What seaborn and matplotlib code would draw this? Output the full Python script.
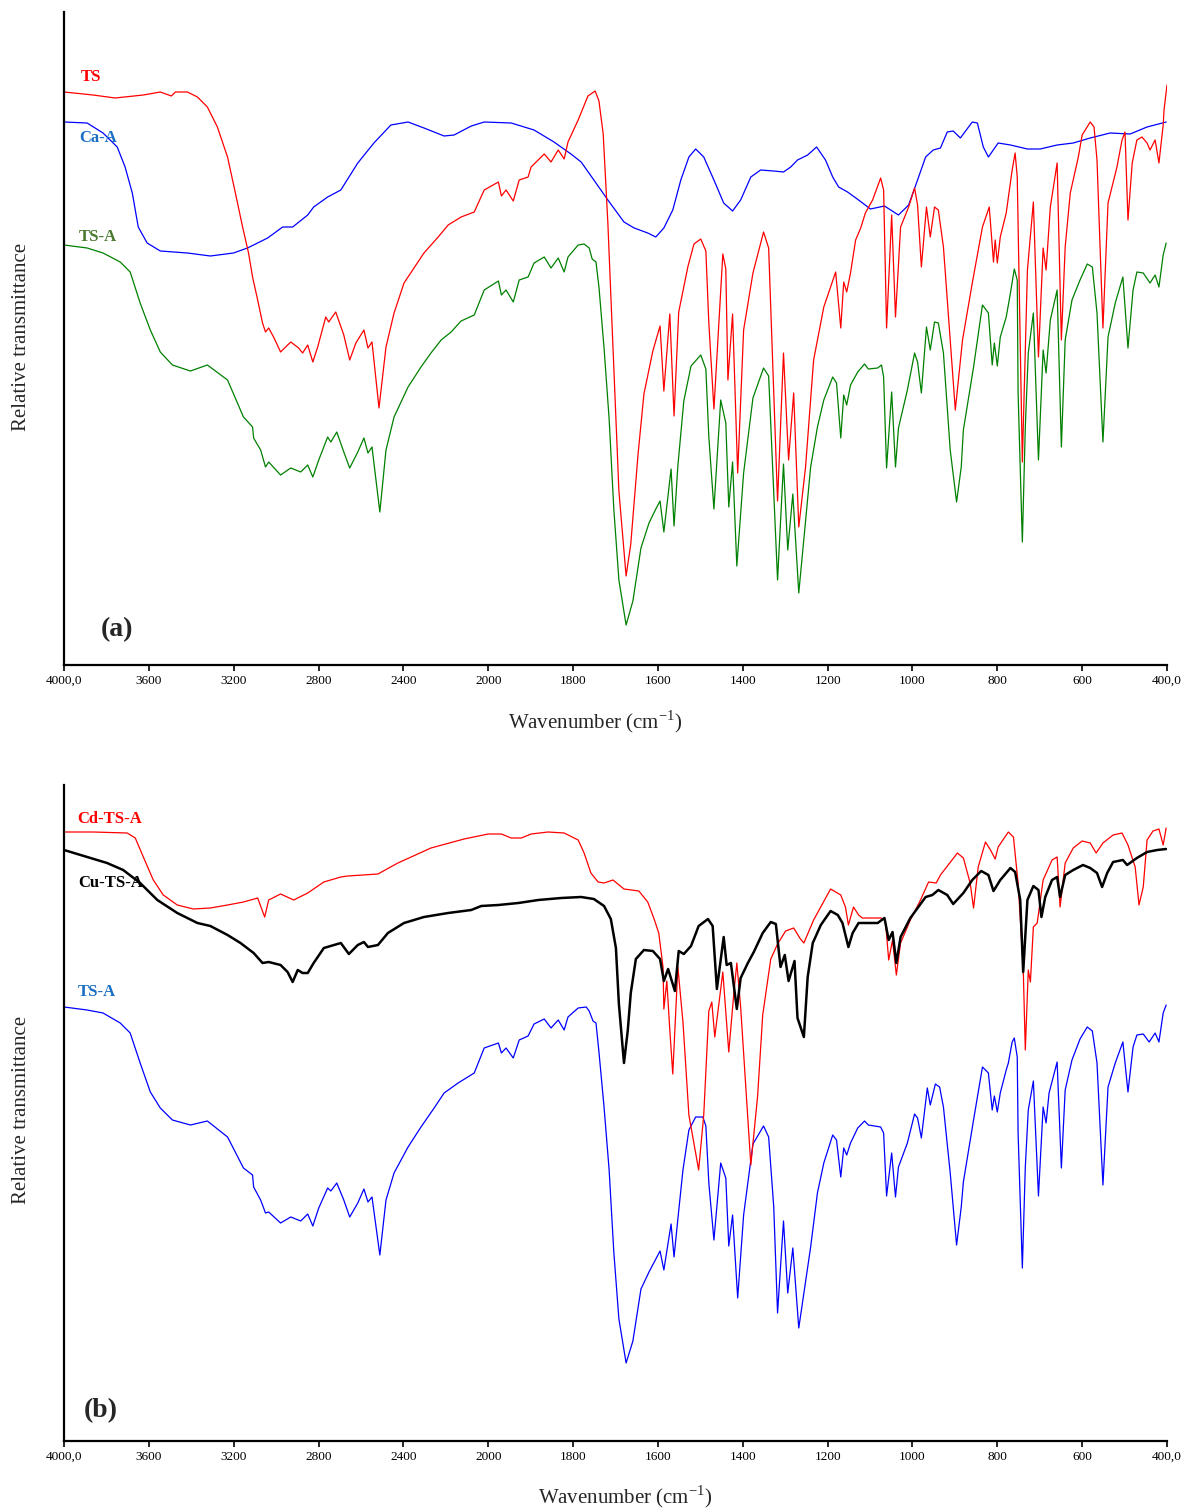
import numpy as np
import pandas as pd
import matplotlib
matplotlib.use("Agg")
import matplotlib.pyplot as plt
import seaborn as sns

# ---------------- data (wavenumber cm-1, relative transmittance, arb. units) ----------------
ts_wn = [4000, 3863, 3759, 3626, 3546, 3494, 3475, 3418, 3371, 3324, 3277, 3229, 3192, 3158, 3130, 3111,
         3087, 3064, 3050, 3035, 3012, 2979, 2931, 2894, 2875, 2851, 2827, 2804, 2766, 2752, 2719, 2681,
         2653, 2624, 2586, 2567, 2548, 2515, 2482, 2444, 2397, 2303, 2236, 2189, 2128, 2066, 2019, 1976,
         1969, 1958, 1941, 1927, 1906, 1899, 1868, 1852, 1835, 1821, 1812, 1788, 1765, 1748, 1739, 1729,
         1718, 1704, 1692, 1675, 1664, 1647, 1633, 1612, 1595, 1586, 1572, 1562, 1551, 1529, 1515, 1499,
         1487, 1480, 1468, 1447, 1440, 1435, 1424, 1412, 1398, 1376, 1351, 1339, 1318, 1304, 1292, 1280,
         1268, 1252, 1233, 1209, 1181, 1169, 1162, 1155, 1146, 1134, 1122, 1111, 1094, 1075, 1068, 1061,
         1049, 1040, 1028, 1009, 995, 988, 979, 967, 958, 948, 939, 927, 899, 882, 859, 835, 819, 809, 805,
         800, 793, 779, 765, 758, 753, 741, 729, 715, 703, 692, 685, 675, 659, 649, 640, 628, 609, 600,
         581, 572, 565, 551, 539, 518, 506, 499, 492, 482, 471, 459, 447, 440, 428, 419, 409, 407, 400]
ts_t = [573, 570, 567, 570, 573, 569, 573, 573, 568, 558, 538, 508, 472, 438, 412, 388,
        365, 342, 333, 337, 328, 313, 323, 317, 312, 320, 303, 318, 348, 343, 353, 330,
        305, 322, 335, 317, 323, 257, 318, 352, 382, 412, 428, 440, 448, 453, 475, 483,
        469, 475, 464, 485, 488, 498, 511, 503, 515, 506, 523, 545, 569, 574, 564, 531,
        442, 299, 174, 89, 121, 210, 271, 314, 339, 274, 351, 249, 353, 399, 421, 426,
        414, 342, 256, 411, 396, 285, 351, 192, 335, 392, 433, 417, 164, 312, 205, 272,
        138, 198, 305, 358, 393, 337, 383, 373, 392, 425, 437, 452, 465, 487, 475, 337,
        450, 348, 438, 458, 477, 460, 398, 458, 428, 458, 455, 418, 255, 325, 382, 438, 458, 403, 425,
        402, 428, 452, 495, 512, 488, 203, 395, 463, 308, 417, 395, 458, 502, 325, 418, 472, 508, 530,
        543, 538, 505, 337, 462, 498, 525, 533, 445, 502, 525, 528, 522, 515, 525, 502, 540, 555, 580]

caa_wn = [4000, 3891, 3816, 3749, 3712, 3678, 3650, 3608, 3546, 3418, 3310, 3201, 3135, 3040, 2969, 2922,
          2851, 2823, 2757, 2695, 2615, 2539, 2459, 2378, 2303, 2208, 2161, 2080, 2019, 1946, 1892, 1845,
          1805, 1781, 1751, 1718, 1680, 1656, 1624, 1605, 1586, 1565, 1546, 1527, 1511, 1492, 1468, 1445,
          1424, 1405, 1381, 1358, 1327, 1304, 1287, 1271, 1247, 1226, 1205, 1188, 1174, 1153, 1127, 1099,
          1066, 1033, 1009, 988, 969, 951, 934, 918, 904, 887, 859, 847, 833, 821, 798, 769, 729, 699,
          659, 621, 581, 534, 487, 447, 402]
caa_t = [543, 542, 532, 518, 498, 472, 438, 422, 414, 412, 409, 412, 417, 427, 438, 438,
         450, 458, 468, 475, 502, 522, 540, 543, 537, 529, 530, 539, 543, 542, 535, 523,
         511, 503, 485, 465, 443, 437, 432, 428, 437, 455, 485, 508, 516, 508, 485, 462,
         454, 465, 488, 495, 494, 493, 498, 505, 510, 518, 505, 488, 478, 473, 465, 456,
         459, 450, 460, 485, 508, 515, 517, 533, 534, 527, 543, 542, 518, 508, 522, 520, 516, 516,
         520, 522, 527, 532, 531, 538, 543]

tsa_wn = [4000, 3891, 3816, 3735, 3688, 3641, 3593, 3546, 3489, 3404, 3324, 3229, 3154, 3111, 3106, 3073,
          3050, 3035, 2979, 2931, 2884, 2851, 2827, 2799, 2757, 2742, 2714, 2681, 2653, 2615, 2586, 2567,
          2548, 2511, 2482, 2444, 2378, 2317, 2270, 2222, 2175, 2128, 2066, 2019, 1976, 1969, 1958, 1941,
          1927, 1906, 1892, 1868, 1852, 1835, 1821, 1812, 1788, 1774, 1762, 1755, 1746, 1739, 1727, 1715,
          1704, 1692, 1675, 1659, 1640, 1621, 1605, 1595, 1586, 1569, 1562, 1553, 1539, 1522, 1499, 1487,
          1480, 1468, 1452, 1440, 1433, 1424, 1414, 1398, 1376, 1351, 1339, 1318, 1304, 1294, 1282, 1268,
          1240, 1224, 1209, 1188, 1179, 1169, 1162, 1155, 1146, 1129, 1113, 1104, 1082, 1073, 1068, 1061,
          1049, 1040, 1033, 1012, 995, 988, 979, 967, 958, 948, 939, 927, 911, 896, 885, 880, 856, 835,
          821, 812, 807, 800, 793, 779, 769, 760, 753, 751, 741, 734, 727, 715, 703, 692, 685, 675, 659,
          649, 640, 624, 605, 588, 576, 565, 551, 539, 522, 504, 492, 480, 471, 456, 440, 428, 419, 409, 402]
tsa_t = [420, 417, 412, 403, 393, 362, 335, 313, 300, 294, 300, 285, 248, 238, 227, 215,
         198, 203, 190, 197, 193, 200, 188, 205, 228, 223, 233, 213, 197, 213, 227, 212,
         218, 153, 215, 248, 278, 298, 312, 325, 333, 344, 350, 375, 384, 370, 375, 363,
         385, 388, 402, 408, 397, 407, 393, 408, 420, 421, 417, 406, 403, 378, 317, 246,
         156, 85, 40, 64, 117, 142, 156, 164, 133, 196, 139, 199, 264, 299, 310, 296,
         228, 156, 265, 242, 158, 203, 99, 192, 267, 297, 289, 85, 201, 115, 171, 72,
         198, 238, 265, 288, 282, 227, 270, 260, 280, 293, 301, 296, 297, 300, 288, 197,
         273, 198, 237, 275, 312, 303, 272, 338, 315, 343, 342, 312, 215, 163, 198, 235, 298, 360,
         352, 300, 322, 299, 328, 348, 372, 396, 385, 272, 123, 238, 312, 352, 205, 315, 292, 345, 375,
         218, 325, 365, 385, 401, 398, 352, 223, 328, 362, 388, 317, 375, 393, 392, 382, 390, 378, 410, 422]

cd_wn = [4000, 3863, 3702, 3664, 3626, 3579, 3532, 3466, 3390, 3310, 3229, 3154, 3087, 3054, 3035, 2979,
         2917, 2851, 2775, 2695, 2662, 2520, 2426, 2270, 2114, 2000, 1969, 1946, 1922, 1899, 1859, 1821,
         1788, 1774, 1758, 1741, 1727, 1706, 1680, 1645, 1624, 1609, 1598, 1588, 1586, 1579, 1572, 1565,
         1553, 1541, 1527, 1504, 1492, 1480, 1473, 1466, 1447, 1433, 1421, 1414, 1405, 1381, 1365, 1353,
         1334, 1318, 1299, 1280, 1264, 1256, 1233, 1193, 1169, 1158, 1151, 1139, 1127, 1118, 1075, 1064,
         1056, 1047, 1038, 1028, 1005, 981, 962, 944, 934, 894, 880, 864, 856, 845, 828, 816, 805, 798,
         774, 762, 751, 739, 734, 727, 722, 715, 706, 692, 671, 659, 652, 640, 621, 600, 581, 567, 551,
         527, 506, 492, 475, 466, 456, 447, 433, 419, 409, 402]
cd_t = [609, 609, 608, 603, 584, 561, 546, 536, 532, 533, 536, 539, 543, 524, 541, 547,
        541, 548, 559, 564, 565, 567, 578, 593, 602, 607, 607, 603, 603, 607, 609, 608,
        601, 588, 568, 559, 558, 561, 552, 550, 539, 522, 508, 474, 432, 460, 411, 367,
        474, 419, 326, 271, 326, 430, 439, 404, 469, 389, 448, 478, 434, 276, 345, 426,
        482, 497, 510, 513, 502, 498, 521, 552, 546, 534, 516, 534, 526, 523, 523, 521,
        481, 501, 466, 498, 521, 541, 559, 558, 566, 588, 583, 558, 533, 574, 599, 591, 582, 594,
        609, 604, 558, 474, 391, 471, 459, 514, 518, 561, 581, 584, 534, 578, 593, 600, 598, 588, 598,
        606, 608, 596, 574, 536, 554, 601, 610, 612, 596, 613]

cu_wn = [4000, 3891, 3797, 3721, 3641, 3560, 3466, 3371, 3310, 3229, 3168, 3106, 3064, 3035, 2979, 2946,
         2922, 2898, 2875, 2851, 2823, 2775, 2695, 2657, 2615, 2586, 2567, 2520, 2473, 2397, 2303, 2189,
         2080, 2033, 1976, 1929, 1882, 1828, 1781, 1751, 1727, 1711, 1699, 1692, 1680, 1671, 1664, 1652,
         1633, 1612, 1595, 1586, 1576, 1560, 1551, 1539, 1522, 1504, 1482, 1471, 1461, 1445, 1438, 1428,
         1414, 1405, 1388, 1374, 1353, 1334, 1322, 1311, 1301, 1292, 1278, 1271, 1256, 1247, 1235, 1216,
         1193, 1176, 1165, 1151, 1141, 1127, 1082, 1066, 1056, 1047, 1038, 1028, 1005, 986, 969, 953,
         939, 918, 904, 880, 859, 838, 821, 809, 793, 769, 758, 746, 739, 729, 715, 703, 696, 687, 671,
         659, 652, 640, 621, 598, 581, 565, 553, 541, 527, 504, 494, 471, 447, 423, 402]
cu_t = [591, 584, 578, 571, 558, 541, 528, 518, 515, 506, 498, 488, 478, 479, 476, 469,
        459, 471, 468, 468, 478, 493, 498, 487, 496, 499, 494, 496, 508, 518, 524, 528,
        531, 535, 536, 538, 541, 543, 544, 542, 535, 522, 493, 437, 378, 411, 448, 482,
        491, 490, 482, 460, 472, 450, 490, 487, 495, 515, 522, 515, 452, 504, 476, 478,
        432, 463, 478, 489, 508, 519, 517, 474, 486, 460, 480, 423, 404, 464, 498, 516,
        530, 526, 518, 494, 508, 518, 518, 523, 501, 509, 478, 504, 523, 534, 544, 546,
        551, 546, 537, 548, 561, 570, 566, 550, 561, 573, 569, 541, 469, 541, 555, 551, 524, 544, 561,
        564, 544, 566, 571, 576, 573, 568, 554, 568, 579, 581, 576, 583, 589, 591, 592]

tsab_wn = [4000, 3891, 3816, 3735, 3688, 3641, 3593, 3546, 3489, 3404, 3324, 3229, 3154, 3111, 3106, 3073,
           3050, 3035, 2979, 2931, 2884, 2851, 2827, 2799, 2757, 2742, 2714, 2681, 2653, 2615, 2586, 2567,
           2548, 2511, 2482, 2444, 2378, 2317, 2255, 2208, 2142, 2066, 2019, 1976, 1969, 1958, 1941, 1927,
           1906, 1892, 1868, 1852, 1835, 1821, 1812, 1788, 1769, 1762, 1753, 1746, 1739, 1727, 1715, 1704,
           1692, 1675, 1659, 1640, 1621, 1605, 1595, 1586, 1569, 1562, 1553, 1541, 1527, 1511, 1494, 1487,
           1480, 1468, 1452, 1440, 1433, 1424, 1412, 1398, 1376, 1351, 1339, 1327, 1318, 1304, 1294, 1282,
           1268, 1240, 1224, 1209, 1188, 1179, 1169, 1162, 1155, 1146, 1129, 1113, 1104, 1075, 1068, 1061,
           1049, 1040, 1033, 1012, 995, 988, 979, 965, 958, 946, 936, 927, 911, 896, 885, 880, 856, 835,
           821, 812, 807, 800, 793, 779, 774, 765, 760, 753, 751, 741, 734, 727, 715, 703, 692, 685, 678,
           659, 649, 640, 624, 605, 588, 576, 565, 551, 539, 522, 504, 492, 480, 471, 456, 442, 428, 419,
           409, 402]
tsab_t = [434, 431, 428, 418, 408, 378, 349, 333, 321, 316, 320, 304, 273, 266, 254, 241,
          228, 229, 218, 224, 220, 227, 215, 233, 253, 250, 258, 241, 224, 238, 252, 239,
          244, 186, 241, 268, 294, 314, 333, 348, 358, 368, 393, 398, 388, 393, 383, 401,
          405, 417, 422, 413, 421, 411, 424, 433, 434, 430, 420, 418, 389, 334, 271, 189,
          122, 78, 100, 152, 169, 182, 190, 171, 217, 184, 222, 271, 311, 324, 324, 315,
          258, 201, 278, 263, 195, 226, 143, 226, 297, 315, 304, 234, 128, 220, 148, 193,
          113, 194, 248, 278, 306, 301, 264, 293, 286, 298, 313, 320, 316, 314, 308, 245,
          288, 244, 274, 298, 327, 323, 303, 353, 336, 357, 354, 334, 268, 196, 234, 259, 321, 374,
          368, 331, 345, 329, 348, 371, 378, 399, 403, 384, 308, 173, 274, 331, 360, 245, 334, 318, 348,
          379, 273, 351, 381, 402, 414, 410, 378, 256, 354, 378, 399, 349, 394, 406, 407, 399, 408, 399,
          428, 436]

# ---------------- style ----------------
sns.set_theme(style="ticks")
plt.rcParams["font.family"] = ["Liberation Serif", "DejaVu Serif"]
plt.rcParams["mathtext.fontset"] = "custom"
plt.rcParams["mathtext.rm"] = "Liberation Serif"

W, H = 1183, 1512
fig = plt.figure(figsize=(W / 100, H / 100), dpi=100)


def fwd(w):
    w = np.asarray(w, dtype=float)
    return np.where(w <= 2000, w / 200.0, 10.0 + (w - 2000.0) / 400.0)


def inv(p):
    p = np.asarray(p, dtype=float)
    return np.where(p <= 10, p * 200.0, 2000.0 + (p - 10.0) * 400.0)


tick_pos = [4000, 3600, 3200, 2800, 2400, 2000, 1800, 1600, 1400, 1200, 1000, 800, 600, 400]
tick_lab = ["4000,0", "3600", "3200", "2800", "2400", "2000", "1800", "1600", "1400",
            "1200", "1000", "800", "600", "400,0"]


def make_axes(top_px, bottom_px, ymax):
    ax = fig.add_axes([64 / W, 1 - bottom_px / H, (1167 - 64) / W, (bottom_px - top_px) / H])
    ax.set_xscale("function", functions=(fwd, inv))
    ax.set_xlim(4000, 400)
    ax.set_ylim(0, ymax)
    ax.set_xticks(tick_pos)
    ax.set_xticklabels(tick_lab, fontsize=9.5)
    ax.minorticks_off()
    ax.set_yticks([])
    for s in ["top", "right"]:
        ax.spines[s].set_visible(False)
    for s in ["left", "bottom"]:
        ax.spines[s].set_linewidth(1.6)
        ax.spines[s].set_color("black")
    ax.tick_params(axis="x", direction="out", length=4, width=1.2, pad=3, colors="black")
    ax.set_xlabel("")
    ax.set_ylabel("")
    return ax


def draw(ax, wn, t, color, lw):
    df = pd.DataFrame({"wn": wn, "t": t})
    sns.lineplot(data=df, x="wn", y="t", ax=ax, color=color, linewidth=lw,
                 sort=False, estimator=None)
    ax.set_xlabel("")
    ax.set_ylabel("")


# panel (a)
ax1 = make_axes(12, 665, 653)
draw(ax1, caa_wn, caa_t, "#0000ff", 0.9)
draw(ax1, tsa_wn, tsa_t, "#008000", 0.9)
draw(ax1, ts_wn, ts_t, "#ff0000", 0.9)

# panel (b)
ax2 = make_axes(785, 1441, 656)
draw(ax2, tsab_wn, tsab_t, "#0000ff", 0.9)
draw(ax2, cd_wn, cd_t, "#ff0000", 0.9)
draw(ax2, cu_wn, cu_t, "#000000", 1.8)


def ftext(x, y, s, **kw):
    fig.text(x / W, 1 - y / H, s, **kw)


# series labels
ftext(81, 77, "TS", color="#ff0000", fontsize=12, fontweight="bold", va="center")
ftext(79, 138, "Ca-A", color="#1a6fc4", fontsize=12, fontweight="bold", va="center")
ftext(79, 237, "TS-A", color="#4a7a2e", fontsize=12, fontweight="bold", va="center")
ftext(77, 819, "Cd-TS-A", color="#ff0000", fontsize=12, fontweight="bold", va="center")
ftext(78, 883, "Cu-TS-A", color="#000000", fontsize=12, fontweight="bold", va="center")
ftext(78, 992, "TS-A", color="#1a6fc4", fontsize=12, fontweight="bold", va="center")

# panel tags
ftext(117, 630, "(a)", fontsize=20, fontweight="bold", ha="center", va="center")
ftext(101, 1411, "(b)", fontsize=20, fontweight="bold", ha="center", va="center")

# axis titles
ftext(22, 337, "Relative transmittance", fontsize=15, rotation=90, ha="center", va="center")
ftext(22, 1110, "Relative transmittance", fontsize=15, rotation=90, ha="center", va="center")
ftext(595, 722, "Wavenumber (cm$^{-1}$)", fontsize=15, ha="center", va="center")
ftext(625, 1497, "Wavenumber (cm$^{-1}$)", fontsize=15, ha="center", va="center")

fig.savefig("out.png", dpi=100)
